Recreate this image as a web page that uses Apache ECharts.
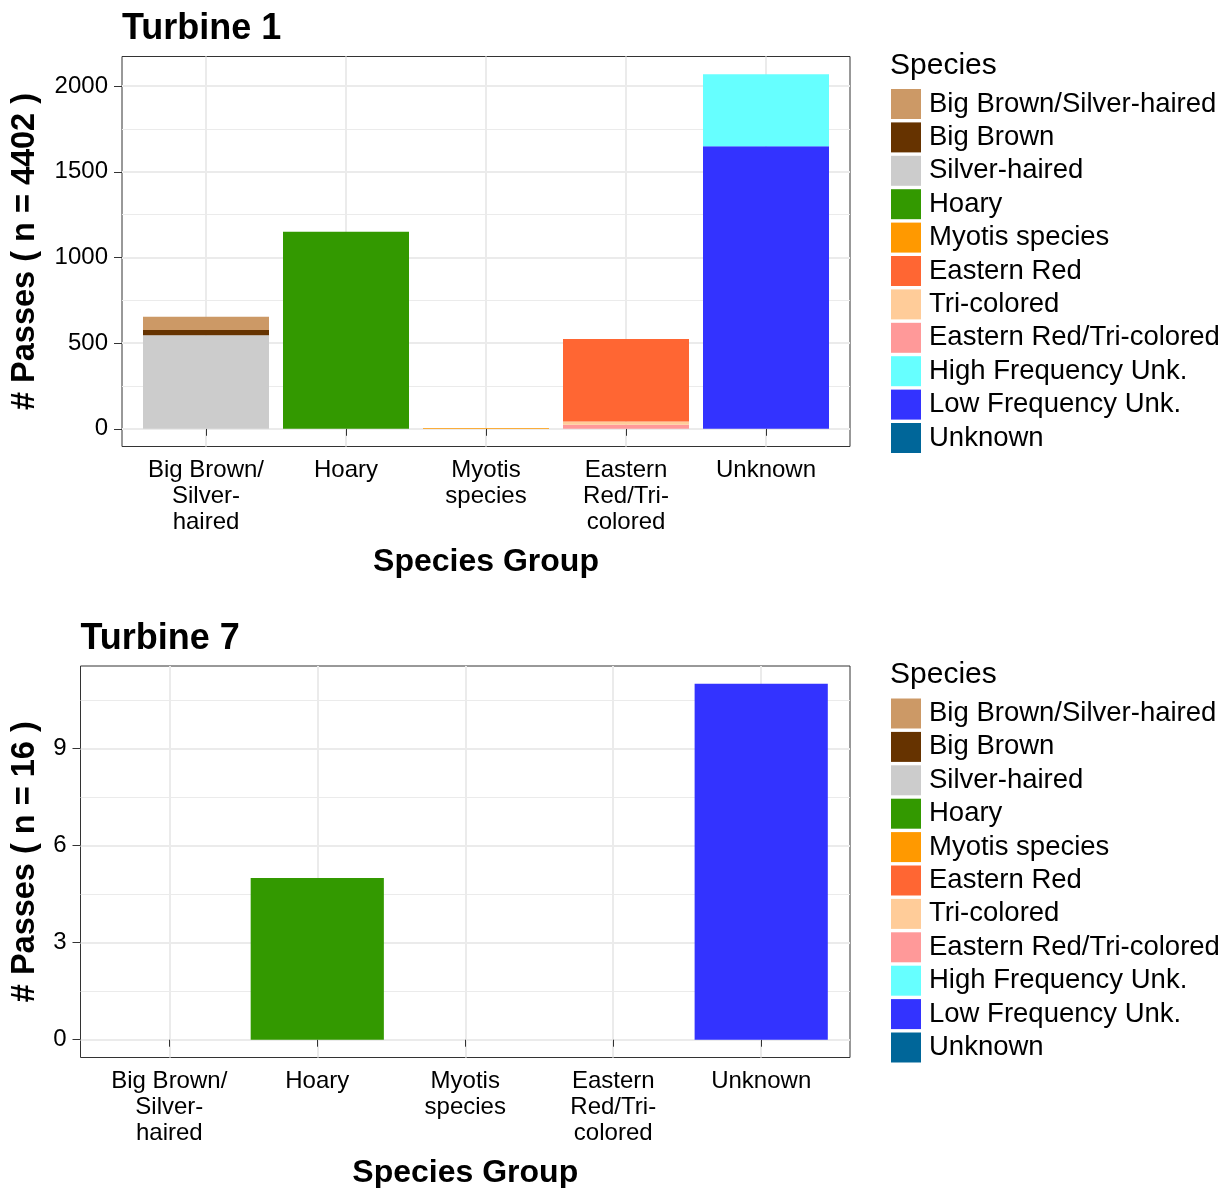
<!DOCTYPE html>
<html>
<head>
<meta charset="utf-8">
<script src="https://cdn.jsdelivr.net/npm/echarts@6/dist/echarts.min.js"></script>
<style>
html,body{margin:0;padding:0;background:#fff;}
#chart{width:1225px;height:1188px;}
</style>
</head>
<body>
<div id="chart"></div>
<script>
// ---- data ----
const categories = ['Big Brown/\nSilver-\nhaired', 'Hoary', 'Myotis\nspecies', 'Eastern\nRed/Tri-\ncolored', 'Unknown'];
const species = ['Big Brown/Silver-haired', 'Big Brown', 'Silver-haired', 'Hoary', 'Myotis species',
  'Eastern Red', 'Tri-colored', 'Eastern Red/Tri-colored', 'High Frequency Unk.', 'Low Frequency Unk.', 'Unknown'];
const speciesColors = ['#CC9966', '#663300', '#CCCCCC', '#339900', '#FF9900',
  '#FF6633', '#FFCC99', '#FF9999', '#66FFFF', '#3333FF', '#006699'];
// index of the species group (category) each species belongs to
const speciesGroup = [0, 0, 0, 1, 2, 3, 3, 3, 4, 4, 4];
// counts per species
const turbine1Counts = [78, 30, 546, 1150, 4, 482, 19, 23, 420, 1650, 0];
const turbine7Counts = [0, 0, 0, 5, 0, 0, 0, 0, 0, 11, 0];
const turbine1Ticks = [0, 500, 1000, 1500, 2000];
const turbine1Minor = [250, 750, 1250, 1750];
const turbine7Ticks = [0, 3, 6, 9];
const turbine7Minor = [1.5, 4.5, 7.5, 10.5];
const catPositions = [1, 2, 3, 4, 5];

const FONT = "'Liberation Sans', Arial, Helvetica, sans-serif";

function panelMax(counts) {
  const totals = categories.map((c, ci) => counts.reduce((s, v, i) => s + (speciesGroup[i] === ci ? v : 0), 0));
  return Math.max(...totals);
}

const panels = [
  {title: 'Turbine 1', counts: turbine1Counts, ticks: turbine1Ticks, minor: turbine1Minor,
   left: 122, top: 56.5, width: 728, height: 390},
  {title: 'Turbine 7', counts: turbine7Counts, ticks: turbine7Ticks, minor: turbine7Minor,
   left: 80.5, top: 666, width: 769.5, height: 391.5}
];

const option = {
  animation: false,
  backgroundColor: '#fff',
  textStyle: {fontFamily: FONT},
  title: [], grid: [], xAxis: [], yAxis: [], legend: [], series: []
};

panels.forEach((p, pi) => {
  const n = p.counts.reduce((a, b) => a + b, 0);
  const maxV = panelMax(p.counts);
  const pad = maxV * 0.05;
  option.title.push({
    text: p.title, left: p.left, top: p.top - 45, padding: 0,
    textStyle: {fontFamily: FONT, fontSize: 36, fontWeight: 'bold', color: '#000'}
  });
  option.title.push({
    text: 'Species', left: 890, top: p.top - 6, padding: 0,
    textStyle: {fontFamily: FONT, fontSize: 30, fontWeight: 'normal', color: '#000'}
  });
  option.grid.push({
    left: p.left, top: p.top, width: p.width, height: p.height,
    outerBoundsMode: 'none', containLabel: false,
    show: true, borderColor: '#333333', borderWidth: 1, backgroundColor: '#fff'
  });
  // x axis (discrete positions on a continuous scale, ggplot-like expansion)
  option.xAxis.push({
    type: 'value', gridIndex: pi, min: 0.4, max: 5.6,
    axisLine: {show: false},
    axisTick: {show: true, customValues: catPositions, length: 7, lineStyle: {color: '#333', width: 1}},
    axisLabel: {customValues: catPositions, formatter: v => categories[Math.round(v) - 1],
      fontFamily: FONT, fontSize: 24, color: '#000', lineHeight: 26, margin: 11},
    splitLine: {show: true, lineStyle: {color: '#EBEBEB', width: 2}},
    name: 'Species Group', nameLocation: 'middle', nameGap: 100,
    nameTextStyle: {fontFamily: FONT, fontSize: 32, fontWeight: 'bold', color: '#000'}
  });
  // main y axis
  option.yAxis.push({
    type: 'value', gridIndex: pi, min: -pad, max: maxV + pad,
    axisLine: {show: false},
    axisTick: {show: true, customValues: p.ticks, length: 8, lineStyle: {color: '#333', width: 1}},
    axisLabel: {customValues: p.ticks, formatter: v => String(v), fontFamily: FONT, fontSize: 24, color: '#000', margin: 14},
    splitLine: {show: true, lineStyle: {color: '#EBEBEB', width: 2}},
    name: '# Passes ( n = ' + n + ' )', nameLocation: 'middle', nameGap: p.left - 42,
    nameTextStyle: {fontFamily: FONT, fontSize: 32.5, fontWeight: 'bold', color: '#000'}
  });
  // minor grid axis
  option.yAxis.push({
    type: 'value', gridIndex: pi, min: -pad, max: maxV + pad, position: 'left',
    axisLine: {show: false},
    axisTick: {show: false, customValues: p.minor},
    axisLabel: {show: false, customValues: p.minor},
    splitLine: {show: true, lineStyle: {color: '#EBEBEB', width: 1}}
  });
  option.legend.push({
    orient: 'vertical', left: 891, top: p.top + 32.5,
    icon: 'rect', itemWidth: 30, itemHeight: 30, itemGap: 3.4, padding: 0,
    selectedMode: false,
    data: species.slice(),
    textStyle: {fontFamily: FONT, fontSize: 27.5, color: '#000', lineHeight: 30, padding: [0, 0, 0, 3]}
  });
  const barW = p.width * 0.9 / 5.2;
  // ggplot stacks first level on top -> add series in reverse order
  for (let i = species.length - 1; i >= 0; i--) {
    option.series.push({
      type: 'bar', name: species[i], xAxisIndex: pi, yAxisIndex: pi * 2,
      stack: 'panel' + pi, barWidth: barW,
      itemStyle: {color: speciesColors[i]},
      encode: {x: 1, y: 0},
      data: catPositions.map((x, ci) => [speciesGroup[i] === ci ? p.counts[i] : 0, x])
    });
  }
});

const chart = echarts.init(document.getElementById('chart'), null, {renderer: 'canvas'});
chart.setOption(option);
</script>
</body>
</html>
